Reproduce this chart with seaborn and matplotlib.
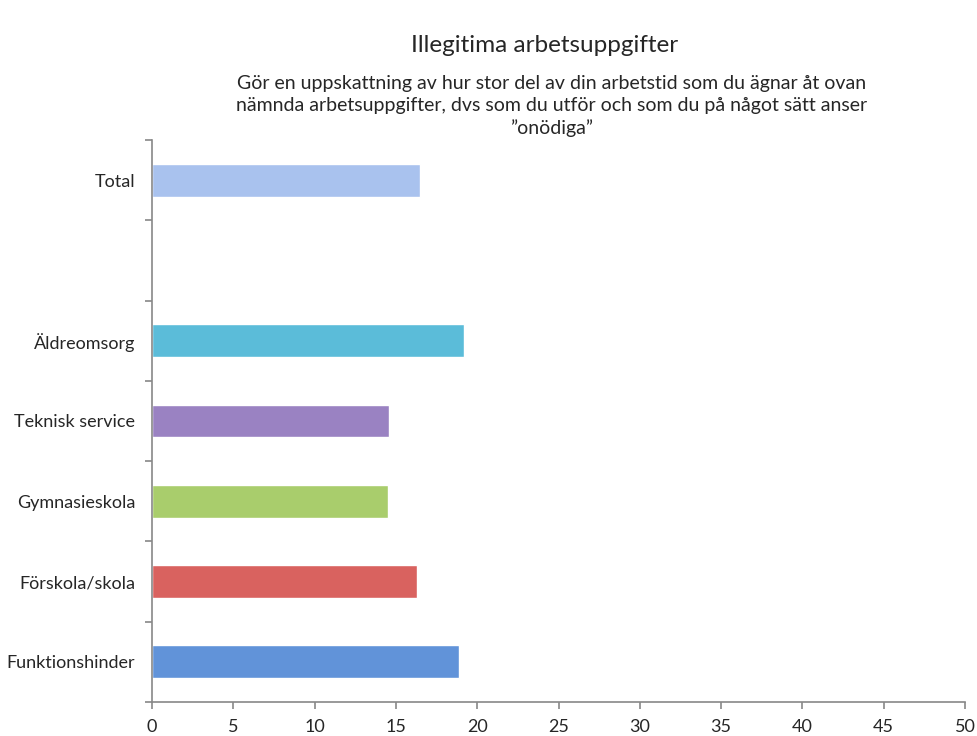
import matplotlib
matplotlib.use("Agg")
import matplotlib.pyplot as plt
import numpy as np
import pandas as pd
import seaborn as sns

# data
kategorier = ["Total", "Äldreomsorg", "Teknisk service", "Gymnasieskola",
              "Förskola/skola", "Funktionshinder"]
varden = [16.5, 19.2, 14.6, 14.5, 16.3, 18.9]
farger = ["#a9c2ee", "#5bbcd9", "#9a82c2", "#a9cd6c", "#d9625f", "#6193d9"]
ordning = ["Total", " ", "Äldreomsorg", "Teknisk service", "Gymnasieskola",
           "Förskola/skola", "Funktionshinder"]
xticks = list(range(0, 51, 5))

sns.set_style("white")
plt.rcParams["font.family"] = ["Lato", "DejaVu Sans"]

df = pd.DataFrame({"kategori": kategorier, "varde": varden})

fig = plt.figure(figsize=(9.77, 7.36), dpi=100)
ax = fig.add_axes([0.1556, 0.0462, 0.8321, 0.7636])

sns.barplot(data=df, x="varde", y="kategori", hue="kategori", order=ordning,
            hue_order=kategorier, palette=farger, width=0.41, legend=False,
            saturation=1, ax=ax)

ax.set_xlim(0, 50)
ax.set_xticks(xticks)
ax.set_xlabel("")
ax.set_ylabel("")
ax.tick_params(axis="x", bottom=True, labelsize=13, length=5, width=1.2,
               color="#888888", pad=7)
ax.tick_params(axis="y", which="major", left=True, labelsize=13, length=0, pad=12)
ax.set_yticks(np.arange(-0.5, len(ordning), 1), minor=True)
ax.tick_params(axis="y", which="minor", left=True, length=5, width=1.2,
               color="#888888")
ax.set_ylim(len(ordning) - 0.5, -0.5)

for side in ["top", "right"]:
    ax.spines[side].set_visible(False)
for side in ["left", "bottom"]:
    ax.spines[side].set_color("#888888")
    ax.spines[side].set_linewidth(1.2)

fig.text(0.557, 0.938, "Illegitima arbetsuppgifter", ha="center", va="center",
         fontsize=17.5)
fig.text(0.565, 0.856,
         "Gör en uppskattning av hur stor del av din arbetstid som du ägnar åt ovan\n"
         "nämnda arbetsuppgifter, dvs som du utför och som du på något sätt anser\n"
         "\u201donödiga\u201d",
         ha="center", va="center", fontsize=14, linespacing=1.35)

fig.savefig("out.png", dpi=100)
